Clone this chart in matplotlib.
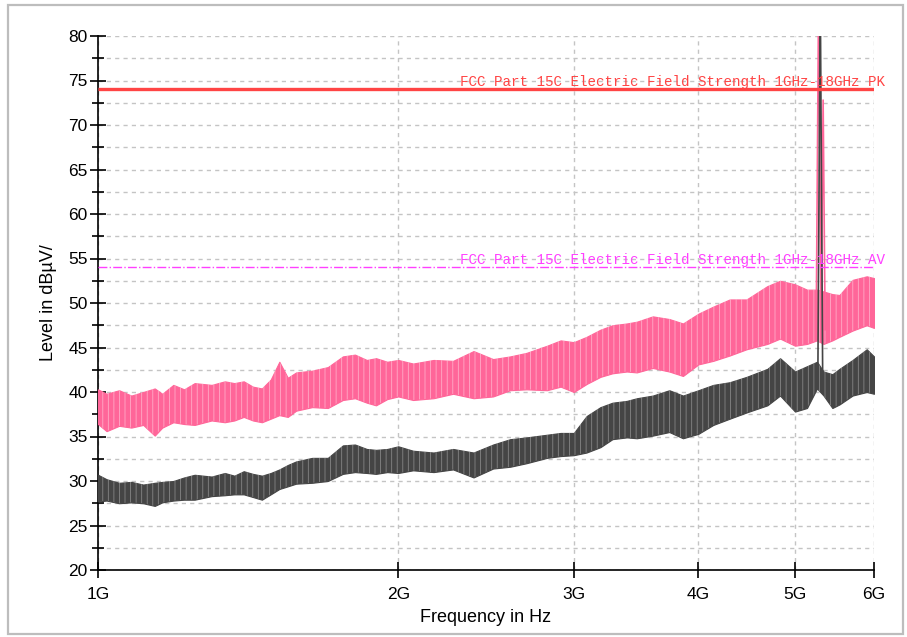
import numpy as np
import matplotlib
matplotlib.use("Agg")
import matplotlib.pyplot as plt
from matplotlib.ticker import FixedLocator, FixedFormatter, MultipleLocator, NullLocator
from matplotlib.patches import Rectangle

# frequency nodes (GHz) where the trace envelopes were read
freq_ghz = [1.00, 1.02, 1.05, 1.08, 1.11, 1.14, 1.16, 1.19, 1.22, 1.25, 1.30, 1.34, 1.37,
            1.40, 1.43, 1.46, 1.49, 1.52, 1.55, 1.58, 1.64, 1.70, 1.76, 1.81, 1.86, 1.90,
            1.95, 2.00, 2.07, 2.17, 2.27, 2.38, 2.49, 2.59, 2.69, 2.82, 2.91, 3.00, 3.09,
            3.19, 3.28, 3.39, 3.47, 3.60, 3.74, 3.86, 4.00, 4.14, 4.30, 4.47, 4.69, 4.83,
            5.00, 5.14, 5.26, 5.34, 5.45, 5.54, 5.71, 5.90, 6.00]

# peak trace (pink) upper / lower envelope, dBuV/m
pk_hi = [40.3, 39.8, 40.2, 39.6, 40.0, 40.4, 39.8, 40.8, 40.3, 41.0, 40.8, 41.2, 41.0,
         41.2, 40.6, 40.4, 41.4, 43.4, 41.6, 42.2, 42.4, 42.8, 44.0, 44.2, 43.6, 43.8,
         43.4, 43.6, 43.2, 43.6, 43.5, 44.6, 43.7, 44.0, 44.4, 45.2, 45.8, 45.6, 46.2,
         47.0, 47.5, 47.7, 47.9, 48.5, 48.2, 47.7, 48.8, 49.6, 50.4, 50.4, 51.9, 52.5,
         52.1, 51.5, 51.5, 51.3, 51.0, 50.9, 52.6, 53.0, 52.8]
pk_lo = [36.4, 35.6, 36.2, 36.0, 36.3, 35.1, 36.0, 36.6, 36.4, 36.3, 36.8, 36.6, 36.8,
         37.2, 36.8, 36.6, 37.0, 37.4, 37.2, 37.9, 38.3, 38.2, 39.1, 39.3, 38.8, 38.5,
         39.2, 39.5, 39.1, 39.3, 39.8, 39.3, 39.5, 40.2, 40.3, 40.2, 40.6, 40.0, 40.9,
         41.7, 42.1, 42.3, 42.2, 42.7, 42.3, 41.8, 43.1, 43.5, 44.1, 44.8, 45.4, 46.0,
         45.2, 45.4, 45.8, 45.4, 45.8, 46.2, 46.9, 47.5, 47.2]

# average trace (dark) upper / lower envelope
av_hi = [30.7, 30.2, 29.8, 29.9, 29.6, 29.8, 29.9, 30.0, 30.4, 30.7, 30.5, 30.9, 30.6,
         31.1, 30.8, 30.6, 30.9, 31.3, 31.8, 32.2, 32.6, 32.6, 34.0, 34.1, 33.6, 33.5,
         33.6, 33.9, 33.4, 33.2, 33.6, 33.2, 34.1, 34.7, 34.9, 35.2, 35.4, 35.4, 37.3,
         38.3, 38.8, 39.0, 39.3, 39.6, 40.2, 39.6, 40.2, 40.8, 41.1, 41.7, 42.6, 43.8,
         42.3, 42.9, 43.4, 42.3, 42.0, 42.6, 43.6, 44.8, 44.0]
av_lo = [27.7, 27.8, 27.5, 27.6, 27.5, 27.2, 27.6, 27.8, 27.9, 27.9, 28.3, 28.4, 28.5,
         28.5, 28.2, 27.9, 28.5, 29.1, 29.4, 29.7, 29.8, 30.0, 30.8, 31.0, 30.9, 30.8,
         31.0, 30.9, 31.2, 31.0, 31.3, 30.4, 31.4, 31.6, 32.0, 32.6, 32.8, 32.9, 33.2,
         33.8, 34.7, 34.9, 34.8, 35.1, 35.5, 34.8, 35.3, 36.3, 37.0, 37.7, 38.5, 39.6,
         37.8, 38.2, 40.4, 39.6, 38.2, 38.6, 39.6, 40.0, 39.8]

# narrow carrier spike near 5.3 GHz
pk_spike_f = [5.25, 5.28, 5.31, 5.335, 5.36]
pk_spike_v = [47.0, 85.0, 48.0, 72.8, 47.0]
av_spike_f = [5.27, 5.30, 5.33]
av_spike_v = [41.0, 85.0, 41.0]

# limit lines
limit_f = [1.0, 6.0]
limit_pk = 74.0
limit_av = 54.0
pk_label = "FCC Part 15C Electric Field Strength 1GHz-18GHz PK"
av_label = "FCC Part 15C Electric Field Strength 1GHz-18GHz AV"

xtick_ghz = [1, 2, 3, 4, 5, 6]
xtick_labels = ["1G", "2G", "3G", "4G", "5G", "6G"]

plt.rcParams['font.family'] = ['Liberation Sans', 'DejaVu Sans']
plt.rcParams['hatch.linewidth'] = 0.6

pink = '#ff6699'
dark = '#454545'

fig = plt.figure(figsize=(9.07, 6.37), dpi=100)
ax = fig.add_axes([98/907, 1-570/637, 776/907, 534/637])

f = np.array(freq_ghz) * 1e9
ax.fill_between(f, pk_lo, pk_hi, color=pink, lw=0.8, zorder=3)
ax.fill_between(f, pk_lo, pk_hi, facecolor='none', edgecolor=(1, 1, 1, 0.45),
                lw=0, hatch='|||', zorder=3)
ax.fill_between(f, av_lo, av_hi, color=dark, lw=0.8, zorder=4)
ax.fill_between(f, av_lo, av_hi, facecolor='none', edgecolor=(1, 1, 1, 0.35),
                lw=0, hatch='|||', zorder=4)
ax.plot(np.array(pk_spike_f) * 1e9, pk_spike_v, color=pink, lw=1.2, zorder=3)
ax.plot(np.array(av_spike_f) * 1e9, av_spike_v, color=dark, lw=1.2, zorder=4)

lf = np.array(limit_f) * 1e9
ax.plot(lf, [limit_pk, limit_pk], color='#ff4444', lw=2.4, zorder=5, solid_capstyle='butt')
ax.plot(lf, [limit_av, limit_av], color='#ff40ff', lw=1.0, ls='-.', zorder=5)

border = Rectangle((0, 0), 903/907, 1, transform=fig.transFigure, visible=False)
fig.add_artist(border)
for txt, yv, col in [(pk_label, limit_pk, '#ff4444'), (av_label, limit_av, '#ff40ff')]:
    t = ax.annotate(txt, xy=(362/776, yv), xycoords=('axes fraction', 'data'),
                    xytext=(0, 2.5), textcoords='offset points', ha='left', va='baseline',
                    fontsize=10.3, color=col, family='Liberation Mono',
                    annotation_clip=False, zorder=6)
    t.set_clip_path(border)

ax.set_xscale('log')
ax.set_xlim(1e9, 6e9)
ax.set_ylim(20, 80)
ax.xaxis.set_major_locator(FixedLocator([v * 1e9 for v in xtick_ghz]))
ax.xaxis.set_major_formatter(FixedFormatter(xtick_labels))
ax.xaxis.set_minor_locator(NullLocator())
ax.yaxis.set_major_locator(MultipleLocator(5))
ax.yaxis.set_minor_locator(MultipleLocator(2.5))

ax.grid(True, which='both', axis='y', color='#c4c4c4', ls=(0, (3, 3)), lw=1)
ax.grid(True, which='major', axis='x', color='#c4c4c4', ls=(0, (3, 3)), lw=1)
ax.set_axisbelow(True)

for s in ['top', 'right']:
    ax.spines[s].set_visible(False)
for s in ['left', 'bottom']:
    ax.spines[s].set_linewidth(1.2)
ax.tick_params(which='major', direction='inout', length=11, width=1.2, labelsize=12.5)
ax.tick_params(which='minor', direction='inout', length=9, width=1.2)
ax.tick_params(axis='x', pad=7)
ax.tick_params(axis='y', pad=2)

ax.set_xlabel("Frequency in Hz", fontsize=13, labelpad=5)
ax.set_ylabel("Level in dBµV/", fontsize=13, labelpad=8)

fig.add_artist(Rectangle((8/907, 3/637), 895/907, 629/637, transform=fig.transFigure,
                         fill=False, edgecolor='#bdbdbd', lw=1.6))

fig.savefig("out.png", dpi=100)
